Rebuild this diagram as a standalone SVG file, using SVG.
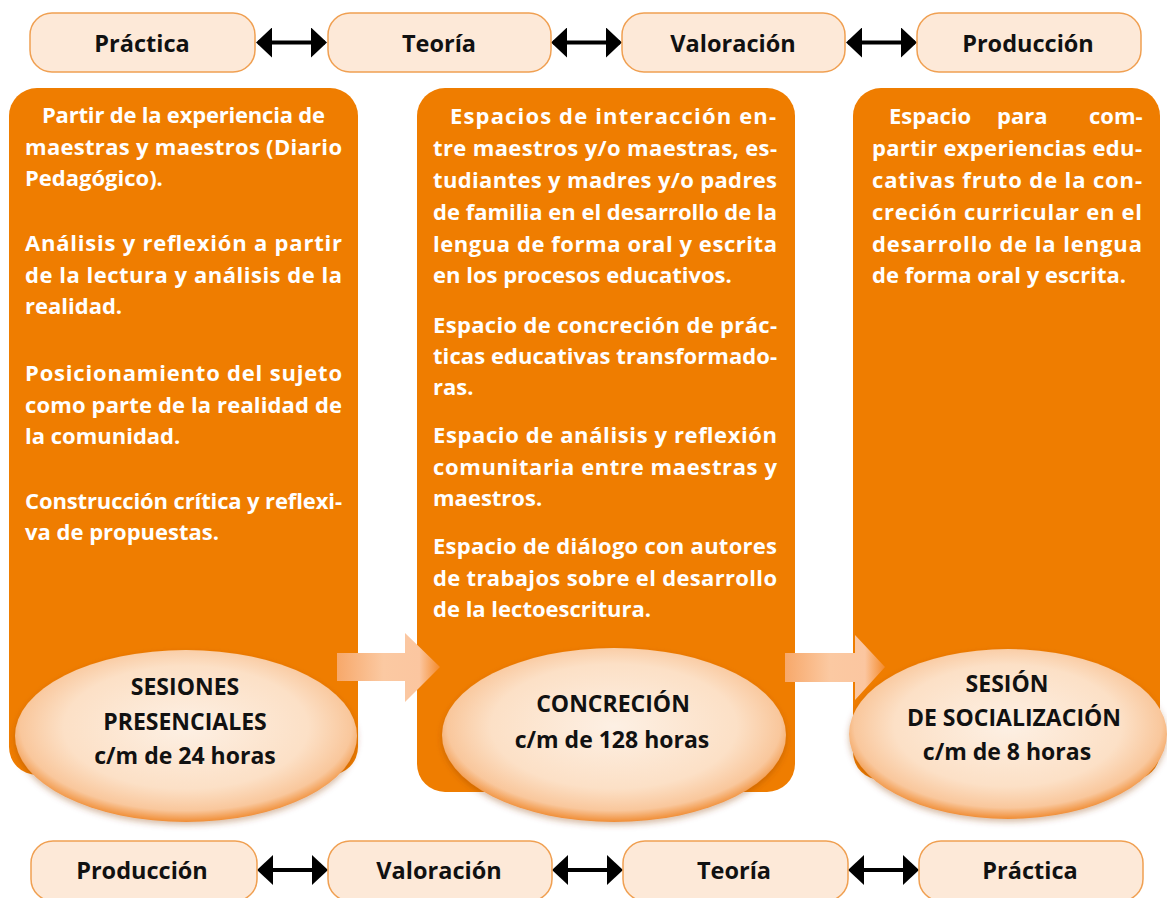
<svg xmlns="http://www.w3.org/2000/svg" width="1167" height="898" viewBox="0 0 1167 898">
<style>
.pill{fill:#fde9d8;stroke:#f0a052;stroke-width:1.5}
.col{fill:#ef7d00}
.ptxt{font-family:"Open Sans",Lato,sans-serif;font-weight:bold;font-size:23.5px;fill:#111;text-anchor:middle}
.btxt{font-family:"Open Sans",Lato,sans-serif;font-weight:bold;font-size:22px;fill:#fff}
.etxt{font-family:"Open Sans",Lato,sans-serif;font-weight:bold;font-size:23px;fill:#111;text-anchor:middle}
.dbl{stroke:#000;stroke-width:4;fill:none;marker-start:url(#head);marker-end:url(#head)}
.ell{fill:url(#ellg);filter:url(#shadow)}
</style>
<defs>
<marker id="head" markerUnits="userSpaceOnUse" markerWidth="17" markerHeight="30" refX="14" refY="15" orient="auto-start-reverse">
<path d="M0,0 L16,15 L0,30 Z" fill="#000"/>
</marker>
<radialGradient id="ellg" cx="50%" cy="45%" r="55%">
<stop offset="0" stop-color="#fdf0e4"/>
<stop offset="0.65" stop-color="#fce0c6"/>
<stop offset="0.88" stop-color="#f9c79c"/>
<stop offset="1" stop-color="#f08d35"/>
</radialGradient>
<linearGradient id="arrg" x1="0" y1="0" x2="1" y2="0">
<stop offset="0" stop-color="#f7a86a"/>
<stop offset="0.45" stop-color="#fbc9a2"/>
<stop offset="0.8" stop-color="#fbc6a0"/>
<stop offset="1" stop-color="#f48a2a"/>
</linearGradient>
<filter id="shadow" x="-10%" y="-10%" width="120%" height="130%">
<feDropShadow dx="0" dy="3" stdDeviation="3" flood-color="#8a3c00" flood-opacity="0.35"/>
</filter>
</defs>
<rect width="1167" height="898" fill="#fff"/>

<g id="columns">
<g id="col1"><rect class="col" x="9" y="88" width="349" height="687" rx="28"/></g>
<g id="col2"><rect class="col" x="417" y="88" width="378" height="704" rx="28"/></g>
<g id="col3"><rect class="col" x="853" y="88" width="307" height="692" rx="28"/></g>
</g>

<g id="connectors">
<line class="dbl" x1="258" y1="42.5" x2="325" y2="42.5"/>
<line class="dbl" x1="553" y1="42.5" x2="620" y2="42.5"/>
<line class="dbl" x1="848" y1="42.5" x2="915" y2="42.5"/>
<line class="dbl" x1="259" y1="870" x2="326" y2="870"/>
<line class="dbl" x1="554" y1="870" x2="621" y2="870"/>
<line class="dbl" x1="850" y1="870" x2="917" y2="870"/>
<polygon points="337,653 405,653 405,633 440,667 405,702 405,681 337,681" fill="url(#arrg)"/>
<polygon points="785,653 855,653 855,635 885,667 855,700 855,682 785,682" fill="url(#arrg)"/>
</g>

<g id="top-practica"><rect class="pill" x="30" y="13" width="225" height="59" rx="22"/><text class="ptxt" x="142" y="52">Práctica</text></g>
<g id="top-teoria"><rect class="pill" x="328" y="13" width="223" height="59" rx="22"/><text class="ptxt" x="439" y="52">Teoría</text></g>
<g id="top-valoracion"><rect class="pill" x="622" y="13" width="223" height="59" rx="22"/><text class="ptxt" x="733" y="52">Valoración</text></g>
<g id="top-produccion"><rect class="pill" x="917" y="13" width="224" height="59" rx="22"/><text class="ptxt" x="1028" y="52">Producción</text></g>

<g id="bot-produccion"><rect class="pill" x="31" y="841" width="226" height="60" rx="22"/><text class="ptxt" x="142" y="879">Producción</text></g>
<g id="bot-valoracion"><rect class="pill" x="328" y="841" width="224" height="60" rx="22"/><text class="ptxt" x="439" y="879">Valoración</text></g>
<g id="bot-teoria"><rect class="pill" x="623" y="841" width="225" height="60" rx="22"/><text class="ptxt" x="734" y="879">Teoría</text></g>
<g id="bot-practica"><rect class="pill" x="919" y="841" width="224" height="60" rx="22"/><text class="ptxt" x="1030" y="879">Práctica</text></g>

<g id="text1" class="btxt">
<text x="42" y="123" textLength="283" lengthAdjust="spacing">Partir de la experiencia de</text>
<text x="25" y="155" textLength="317" lengthAdjust="spacing">maestras y maestros (Diario</text>
<text x="25" y="186">Pedagógico).</text>
<text x="25" y="251" textLength="317" lengthAdjust="spacing">Análisis y reflexión a partir</text>
<text x="25" y="283" textLength="317" lengthAdjust="spacing">de la lectura y análisis de la</text>
<text x="25" y="314">realidad.</text>
<text x="25" y="381" textLength="317" lengthAdjust="spacing">Posicionamiento del sujeto</text>
<text x="25" y="413" textLength="317" lengthAdjust="spacing">como parte de la realidad de</text>
<text x="25" y="444">la comunidad.</text>
<text x="25" y="509" textLength="317" lengthAdjust="spacing">Construcción crítica y reflexi-</text>
<text x="25" y="540">va de propuestas.</text>
</g>

<g id="text2" class="btxt">
<text x="450" y="124" textLength="326" lengthAdjust="spacing">Espacios de interacción en-</text>
<text x="433" y="156" textLength="344" lengthAdjust="spacing">tre maestros y/o maestras, es-</text>
<text x="433" y="188" textLength="344" lengthAdjust="spacing">tudiantes y madres y/o padres</text>
<text x="433" y="220" textLength="344" lengthAdjust="spacing">de familia en el desarrollo de la</text>
<text x="433" y="252" textLength="344" lengthAdjust="spacing">lengua de forma oral y escrita</text>
<text x="433" y="283">en los procesos educativos.</text>
<text x="433" y="333" textLength="344" lengthAdjust="spacing">Espacio de concreción de prác-</text>
<text x="433" y="364" textLength="344" lengthAdjust="spacing">ticas educativas transformado-</text>
<text x="433" y="395">ras.</text>
<text x="433" y="443" textLength="344" lengthAdjust="spacing">Espacio de análisis y reflexión</text>
<text x="433" y="475" textLength="344" lengthAdjust="spacing">comunitaria entre maestras y</text>
<text x="433" y="506">maestros.</text>
<text x="433" y="554" textLength="344" lengthAdjust="spacing">Espacio de diálogo con autores</text>
<text x="433" y="586" textLength="344" lengthAdjust="spacing">de trabajos sobre el desarrollo</text>
<text x="433" y="617">de la lectoescritura.</text>
</g>

<g id="text3" class="btxt">
<text y="124"><tspan x="889">Espacio</tspan><tspan x="997">para</tspan><tspan x="1089">com-</tspan></text>
<text x="872" y="156" textLength="270" lengthAdjust="spacing">partir experiencias edu-</text>
<text x="872" y="188" textLength="270" lengthAdjust="spacing">cativas fruto de la con-</text>
<text x="872" y="220" textLength="270" lengthAdjust="spacing">creción curricular en el</text>
<text x="872" y="252" textLength="270" lengthAdjust="spacing">desarrollo de la lengua</text>
<text x="872" y="283">de forma oral y escrita.</text>
</g>

<g id="ellipse1">
<ellipse class="ell" cx="186" cy="736" rx="171" ry="86"/>
<text class="etxt" x="185" y="695">SESIONES</text>
<text class="etxt" x="185" y="730">PRESENCIALES</text>
<text class="etxt" x="185" y="764">c/m de 24 horas</text>
</g>
<g id="ellipse2">
<ellipse class="ell" cx="614" cy="735" rx="172" ry="87"/>
<text class="etxt" x="613" y="712">CONCRECIÓN</text>
<text class="etxt" x="612" y="748">c/m de 128 horas</text>
</g>
<g id="ellipse3">
<ellipse class="ell" cx="1008" cy="734" rx="159" ry="85"/>
<text class="etxt" x="1007" y="692">SESIÓN</text>
<text class="etxt" x="1014" y="726">DE SOCIALIZACIÓN</text>
<text class="etxt" x="1007" y="760">c/m de 8 horas</text>
</g>
</svg>
